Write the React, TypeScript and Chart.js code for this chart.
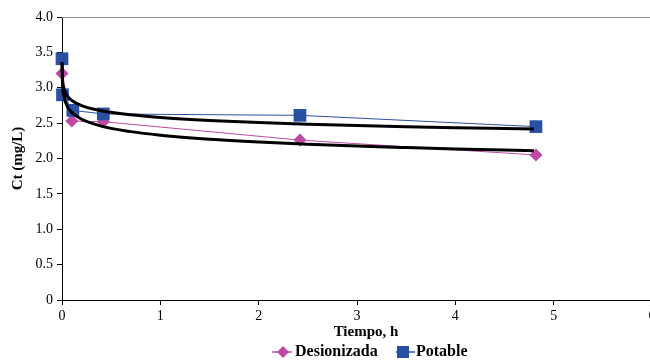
import React, { useEffect, useRef } from 'react';
import { Chart, registerables } from 'chart.js';

Chart.register(...registerables);

// ---- data ----
const desionizadaX = [0, 0.1, 0.42, 2.42, 4.82];
const desionizadaY = [3.2, 2.53, 2.52, 2.26, 2.05];

const potableX = [0, 0.005, 0.11, 0.42, 2.42, 4.82];
const potableY = [3.41, 2.9, 2.68, 2.63, 2.61, 2.45];

// logarithmic trend curves
const trendX = [0.0005, 0.005, 0.02, 0.05, 0.1, 0.2, 0.4, 0.7, 1.0, 1.5, 2.0, 2.5, 3.0, 3.5, 4.0, 4.5, 4.8];
const trendPotableY = [3.36, 3.131, 2.987, 2.892, 2.82, 2.747, 2.675, 2.617, 2.58, 2.538, 2.508, 2.485, 2.466, 2.45, 2.436, 2.424, 2.417];
const trendDesionizadaY = [3.36, 3.072, 2.878, 2.749, 2.652, 2.555, 2.458, 2.38, 2.33, 2.273, 2.233, 2.202, 2.176, 2.155, 2.136, 2.119, 2.11];

const xTicks = [0, 1, 2, 3, 4, 5, 6];
const yTicks = [0, 0.5, 1.0, 1.5, 2.0, 2.5, 3.0, 3.5, 4.0];

const seriesNames = ['Desionizada', 'Potable'];
const xTitle = 'Tiempo, h';
const yTitle = 'Ct (mg/L)';

const MAGENTA = '#BE4AA6';
const BLUE = '#2A50A4';
const SERIF = '"Liberation Serif", "Times New Roman", serif';

const zip = (xs: number[], ys: number[]) => xs.map((x, i) => ({ x, y: ys[i] }));

const decorPlugin = {
  id: 'decor',
  beforeDatasetsDraw(chart: any) {
    const { ctx, chartArea } = chart;
    ctx.save();
    ctx.strokeStyle = '#8C8C8C';
    ctx.lineWidth = 1;
    ctx.beginPath();
    ctx.moveTo(chartArea.left, Math.round(chartArea.top) + 0.5);
    ctx.lineTo(chartArea.right, Math.round(chartArea.top) + 0.5);
    ctx.moveTo(Math.round(chartArea.right) + 0.5, chartArea.top);
    ctx.lineTo(Math.round(chartArea.right) + 0.5, chartArea.bottom);
    ctx.stroke();
    ctx.restore();
  },
  afterDraw(chart: any) {
    const { ctx } = chart;
    ctx.save();
    // x axis title
    ctx.fillStyle = '#000';
    ctx.font = `bold 15px ${SERIF}`;
    ctx.textAlign = 'center';
    ctx.textBaseline = 'middle';
    ctx.fillText(xTitle, 366, 332);

    // legend
    const ly = 352;
    ctx.font = `bold 16px ${SERIF}`;
    // Desionizada
    ctx.strokeStyle = MAGENTA;
    ctx.lineWidth = 1.5;
    ctx.beginPath();
    ctx.moveTo(272, ly);
    ctx.lineTo(292, ly);
    ctx.stroke();
    ctx.fillStyle = MAGENTA;
    ctx.beginPath();
    ctx.moveTo(283, ly - 6);
    ctx.lineTo(289, ly);
    ctx.lineTo(283, ly + 6);
    ctx.lineTo(277, ly);
    ctx.closePath();
    ctx.fill();
    ctx.fillStyle = '#000';
    ctx.textAlign = 'left';
    ctx.fillText(seriesNames[0], 295, ly);
    // Potable
    ctx.strokeStyle = BLUE;
    ctx.beginPath();
    ctx.moveTo(396, ly);
    ctx.lineTo(415, ly);
    ctx.stroke();
    ctx.fillStyle = BLUE;
    ctx.fillRect(397, ly - 6, 12, 12);
    ctx.fillStyle = '#000';
    ctx.fillText(seriesNames[1], 416, ly);
    ctx.restore();
  },
};

export default function App() {
  const ref = useRef<HTMLCanvasElement | null>(null);

  useEffect(() => {
    if (!ref.current) return;
    const chart = new Chart(ref.current, {
      type: 'line',
      data: {
        datasets: [
          {
            label: 'trendPotable',
            data: zip(trendX, trendPotableY),
            borderColor: '#000',
            borderWidth: 3,
            pointRadius: 0,
            cubicInterpolationMode: 'monotone',
            fill: false,
            clip: false,
          },
          {
            label: 'trendDesionizada',
            data: zip(trendX, trendDesionizadaY),
            borderColor: '#000',
            borderWidth: 3,
            pointRadius: 0,
            cubicInterpolationMode: 'monotone',
            fill: false,
            clip: false,
          },
          {
            label: seriesNames[1],
            data: zip(potableX, potableY),
            borderColor: BLUE,
            backgroundColor: BLUE,
            borderWidth: 1,
            pointStyle: 'rect',
            pointRadius: 9,
            pointBorderWidth: 0,
            tension: 0,
            fill: false,
            clip: false,
          },
          {
            label: seriesNames[0],
            data: zip(desionizadaX, desionizadaY),
            borderColor: MAGENTA,
            backgroundColor: MAGENTA,
            borderWidth: 1,
            pointStyle: 'rectRot',
            pointRadius: 6.5,
            pointBorderWidth: 0,
            tension: 0,
            fill: false,
            clip: false,
          },
        ],
      } as any,
      options: {
        responsive: false,
        animation: false,
        events: [],
        layout: { padding: { top: 17, right: 8, left: 0, bottom: 0 }, autoPadding: false } as any,
        plugins: {
          legend: { display: false },
          tooltip: { enabled: false },
        },
        scales: {
          x: {
            type: 'linear',
            min: 0,
            max: 6,
            afterFit: (s: any) => {
              s.height = 60;
            },
            afterBuildTicks: (s: any) => {
              s.ticks = xTicks.map((v) => ({ value: v }));
            },
            ticks: {
              color: '#000',
              font: { family: SERIF, size: 14 },
              padding: 3,
              maxRotation: 0,
              callback: (v: any) => String(v),
            },
            grid: {
              display: true,
              drawOnChartArea: false,
              drawTicks: true,
              tickLength: 5,
              color: '#000',
            },
            border: { display: true, color: '#000', width: 1 },
          },
          y: {
            type: 'linear',
            min: 0,
            max: 4,
            afterFit: (s: any) => {
              s.width = 62;
            },
            afterBuildTicks: (s: any) => {
              s.ticks = yTicks.map((v) => ({ value: v }));
            },
            ticks: {
              color: '#000',
              font: { family: SERIF, size: 14 },
              padding: 4,
              callback: (v: any) => (Number(v) === 0 ? '0' : Number(v).toFixed(1)),
            },
            grid: {
              display: true,
              drawOnChartArea: false,
              drawTicks: true,
              tickLength: 5,
              color: '#000',
            },
            border: { display: true, color: '#000', width: 1 },
            title: {
              display: true,
              text: yTitle,
              color: '#000',
              font: { family: SERIF, size: 15, weight: 'bold' },
              padding: { top: 9, bottom: 0 },
            },
          },
        },
      } as any,
      plugins: [decorPlugin],
    });
    return () => chart.destroy();
  }, []);

  return (
    <div
      style={{
        position: 'absolute',
        left: 0,
        top: 0,
        width: 650,
        height: 360,
        overflow: 'hidden',
        background: '#fff',
      }}
    >
      <canvas ref={ref} width={660} height={360} style={{ display: 'block', width: 660, height: 360 }} />
    </div>
  );
}
